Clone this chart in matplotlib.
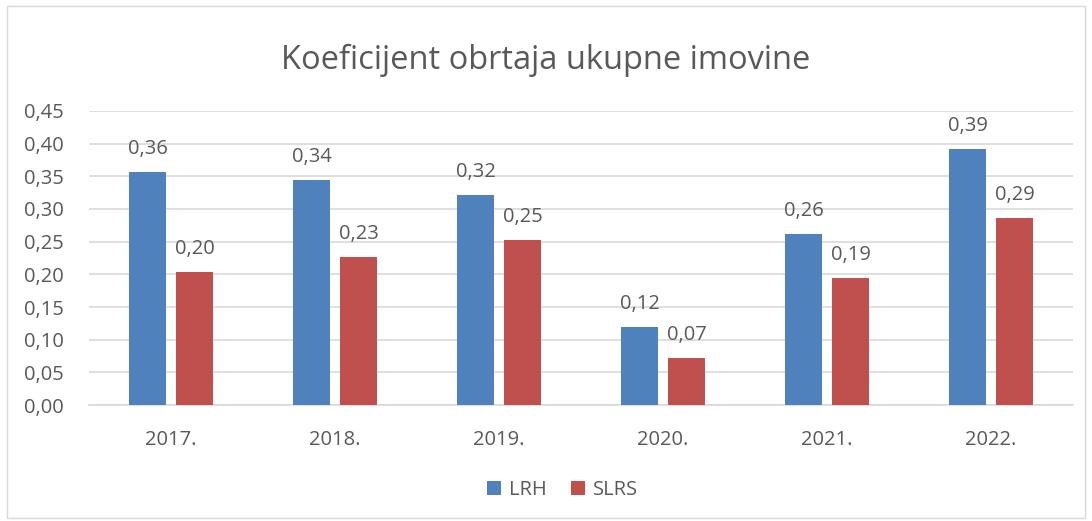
import matplotlib
matplotlib.use("Agg")
import matplotlib.pyplot as plt
import numpy as np
from matplotlib.patches import Rectangle

years = ["2017.", "2018.", "2019.", "2020.", "2021.", "2022."]
lrh = [0.357, 0.344, 0.322, 0.119, 0.262, 0.392]
slrs = [0.204, 0.226, 0.253, 0.072, 0.194, 0.286]
yticks = [0.00, 0.05, 0.10, 0.15, 0.20, 0.25, 0.30, 0.35, 0.40, 0.45]

plt.rcParams['font.family'] = ['Open Sans', 'DejaVu Sans']
txt = '#595959'
fs = 14.5

fig = plt.figure(figsize=(10.92, 5.21), dpi=100)
fig.patches.append(Rectangle((0.006, 0.006), 0.988, 0.982, transform=fig.transFigure,
                             fill=False, edgecolor='#D9D9D9', linewidth=1))
ax = fig.add_axes([0.0815, 0.2226, 0.9011, 0.5644])

x = np.arange(len(years))
w = 0.225
b1 = ax.bar(x - 0.143, lrh, w, color='#4F81BD', label='LRH', zorder=3)
b2 = ax.bar(x + 0.143, slrs, w, color='#C0504D', label='SLRS', zorder=3)

for bars, vals in ((b1, lrh), (b2, slrs)):
    for r, v in zip(bars, vals):
        ax.text(r.get_x() + r.get_width() / 2, v + 0.02, f"{v:.2f}".replace('.', ','),
                ha='center', va='bottom', fontsize=fs, color=txt)

ax.set_xlim(-0.5, len(years) - 0.5)
ax.set_ylim(0, 0.45)
ax.set_yticks(yticks)
ax.set_yticklabels([f"{t:.2f}".replace('.', ',') for t in yticks], fontsize=fs, color=txt)
ax.set_xticks(x)
ax.set_xticklabels(years, fontsize=fs, color=txt)
ax.tick_params(axis='both', length=0)
ax.tick_params(axis='y', pad=18)
ax.tick_params(axis='x', pad=18)
ax.grid(axis='y', color='#D9D9D9', linewidth=1.2, zorder=0)
for s in ['top', 'right', 'left']:
    ax.spines[s].set_visible(False)
ax.spines['bottom'].set_color('#D9D9D9')
ax.spines['bottom'].set_linewidth(1.2)

fig.text(0.5, 0.885, "Koeficijent obrtaja ukupne imovine", ha='center', va='center',
         fontsize=23.5, color=txt)
fig.legend(handles=[b1, b2], loc='center', bbox_to_anchor=(0.515, 0.06), ncol=2,
           frameon=False, fontsize=fs, labelcolor=txt, handlelength=0.7, handleheight=0.7,
           columnspacing=1.2, handletextpad=0.4)

fig.savefig("out.png", dpi=100)
